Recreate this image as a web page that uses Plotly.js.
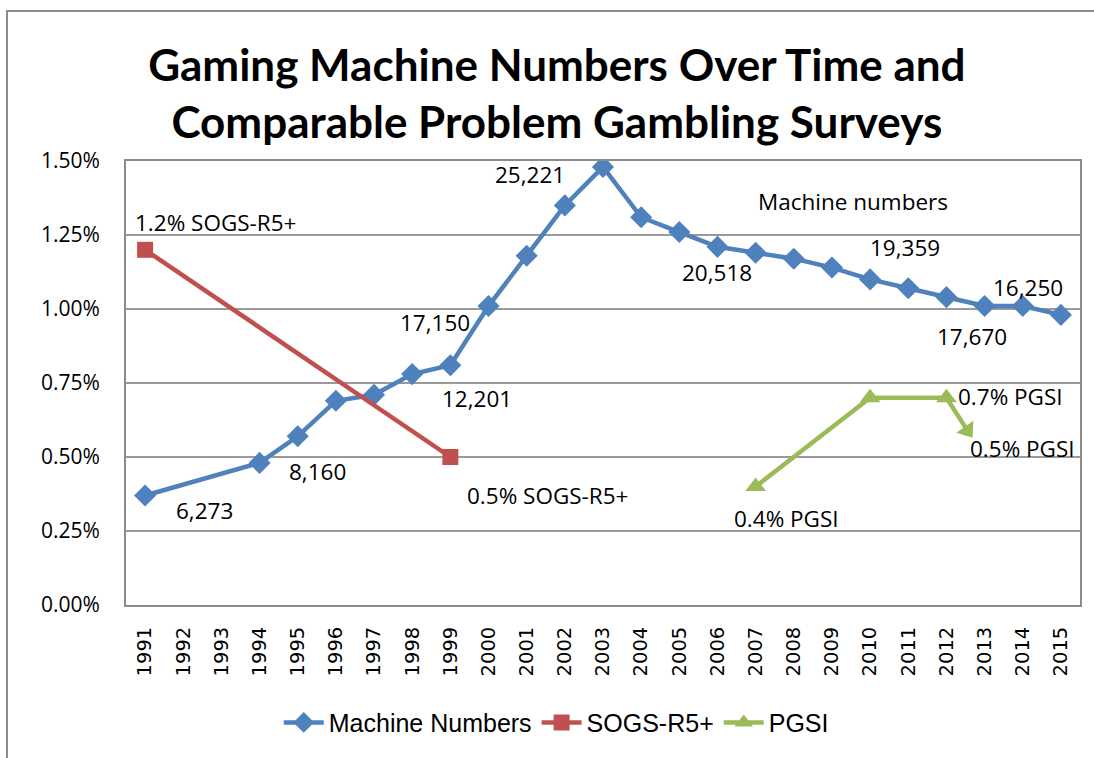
<!DOCTYPE html>
<html>
<head>
<meta charset="utf-8">
<script src="https://cdn.plot.ly/plotly-3.0.1.min.js"></script>
<style>
  html, body { margin: 0; padding: 0; background: #ffffff; }
  #wrap { position: relative; width: 1094px; height: 758px; overflow: hidden; }
  #chart { width: 1094px; height: 758px; }
  #frame { position: absolute; left: 6px; top: 10px; width: 3000px; height: 3000px;
           border-left: 2px solid #8c8c8c; border-top: 2px solid #8c8c8c; pointer-events: none; }
</style>
</head>
<body>
<div id="wrap">
  <div id="chart"></div>
  <div id="frame"></div>
</div>
<script>
// ---- data ----
const yearTicks = [1991,1992,1993,1994,1995,1996,1997,1998,1999,2000,2001,2002,2003,2004,2005,2006,2007,2008,2009,2010,2011,2012,2013,2014,2015];
const machineYears = [1991,1994,1995,1996,1997,1998,1999,2000,2001,2002,2003,2004,2005,2006,2007,2008,2009,2010,2011,2012,2013,2014,2015];
const machineVals  = [0.37,0.48,0.57,0.69,0.71,0.78,0.81,1.01,1.18,1.35,1.48,1.31,1.26,1.21,1.19,1.17,1.14,1.10,1.07,1.04,1.01,1.01,0.98];
const sogsYears = [1991,1999];
const sogsVals  = [1.2,0.5];
const pgsiYears = [2007,2010,2012,2012.55];
const pgsiVals  = [0.4,0.7,0.7,0.59];

// data labels (text, year position, value position)
const labelTexts = ["6,273","8,160","12,201","17,150","25,221","20,518","19,359","16,250","17,670","Machine numbers","1.2% SOGS-R5+","0.5% SOGS-R5+","0.4% PGSI","0.7% PGSI","0.5% PGSI"];
const labelYears = [1992.55,1995.53,1999.70,1998.6,2001.09,2006.0,2010.91,2014.13,2012.66,2009.55,1992.84,2001.55,2007.82,2013.67,2013.98];
const labelVals  = [0.32,0.451,0.696,0.955,1.453,1.123,1.207,1.073,0.908,1.362,1.291,0.37,0.293,0.703,0.53];

const BLUE = '#4F81BD', RED = '#C0504D', GREEN = '#9BBB59';

const traces = [
  { x: machineYears, y: machineVals, name: 'Machine Numbers', type: 'scatter', mode: 'lines+markers',
    line: { color: BLUE, width: 4.5 }, marker: { symbol: 'diamond', size: 17, color: BLUE } },
  { x: sogsYears, y: sogsVals, name: 'SOGS-R5+', type: 'scatter', mode: 'lines+markers',
    line: { color: RED, width: 4.5 }, marker: { symbol: 'square', size: 16, color: RED } },
  { x: pgsiYears, y: pgsiVals, name: 'PGSI', type: 'scatter', mode: 'lines+markers',
    line: { color: GREEN, width: 4.5 },
    marker: { symbol: 'triangle-up', size: 18, color: GREEN, angle: [0,0,0,145] } }
];

const annotations = labelTexts.map((t, i) => ({
  text: t, x: labelYears[i], y: labelVals[i], xref: 'x', yref: 'y',
  showarrow: false, xanchor: 'center', yanchor: 'middle',
  font: { family: 'Open Sans, sans-serif', size: 22.5, color: '#000000' }
}));

const layout = {
  width: 1094, height: 758,
  margin: { l: 126, r: 14, t: 161, b: 151 },
  paper_bgcolor: '#ffffff', plot_bgcolor: '#ffffff',
  title: {
    text: 'Gaming Machine Numbers Over Time and<br>Comparable Problem Gambling Surveys',
    x: 0.509, xref: 'container', xanchor: 'center',
    y: 0.893, yref: 'container', yanchor: 'top',
    font: { family: 'Lato, sans-serif', size: 44, color: '#000000', weight: 'bold' }
  },
  xaxis: {
    range: [1990.5, 2015.5], tickmode: 'array', tickvals: yearTicks, ticktext: yearTicks.map(String),
    tickangle: -90, ticks: '', ticklabelstandoff: 12,
    tickfont: { family: 'DejaVu Sans, sans-serif', size: 19.5, color: '#000000' },
    showgrid: false, zeroline: false, showline: true, linecolor: '#8c8c8c', linewidth: 2, mirror: true
  },
  yaxis: {
    range: [0, 1.5], tickmode: 'array', tickvals: [0,0.25,0.5,0.75,1.0,1.25,1.5],
    ticktext: ['0.00%','0.25%','0.50%','0.75%','1.00%','1.25%','1.50%'],
    ticks: '', ticklabelstandoff: 20,
    tickfont: { family: 'Open Sans, sans-serif', size: 21, color: '#000000' },
    showgrid: true, gridcolor: '#9a9a9a', gridwidth: 2, zeroline: false,
    showline: true, linecolor: '#8c8c8c', linewidth: 2, mirror: true
  },
  showlegend: true,
  legend: {
    orientation: 'h', x: 0.451, xanchor: 'center', y: -0.265, yanchor: 'middle',
    font: { family: 'Liberation Sans, Arial, sans-serif', size: 25, color: '#000000' },
    itemwidth: 40, tracegroupgap: 0
  },
  annotations: annotations,
  hovermode: false
};

Plotly.newPlot('chart', traces, layout, { displayModeBar: false, staticPlot: true });
</script>
</body>
</html>
